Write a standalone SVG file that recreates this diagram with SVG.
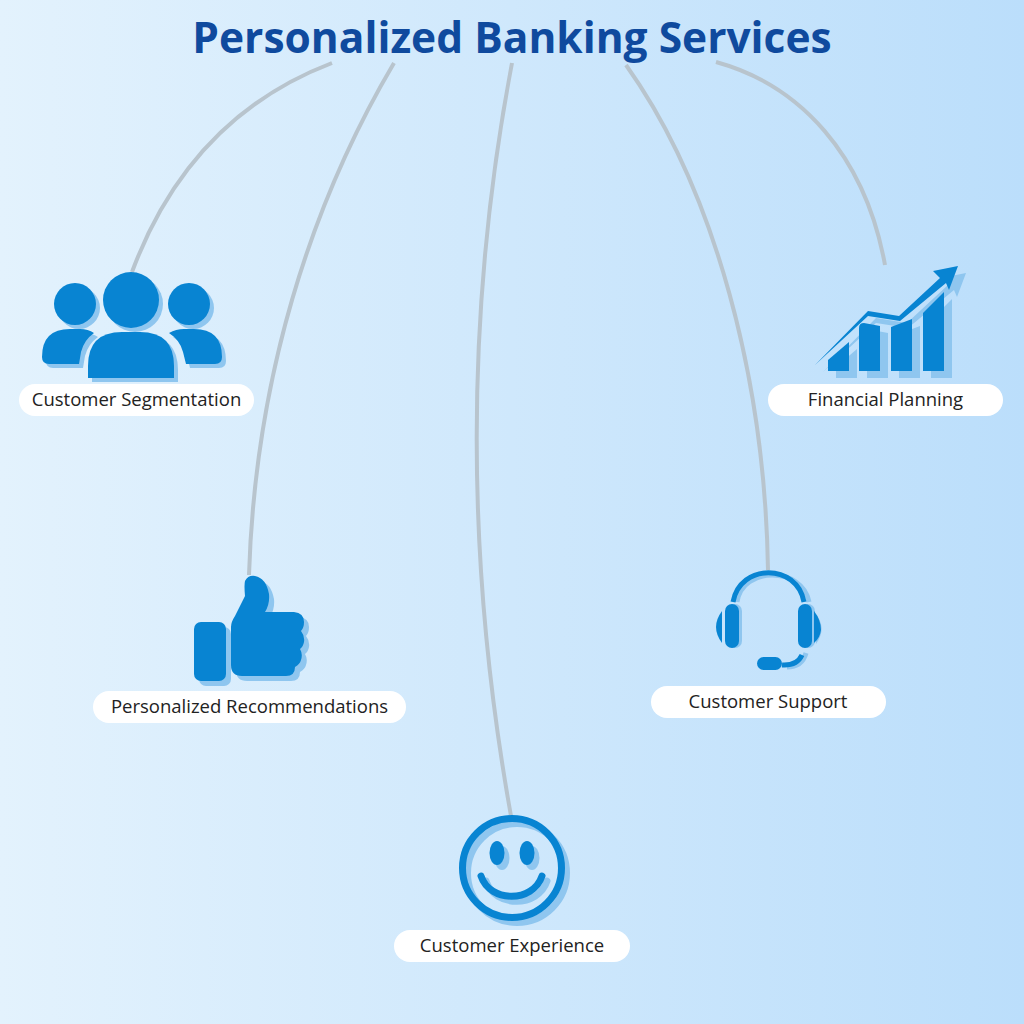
<svg xmlns="http://www.w3.org/2000/svg" xmlns:xlink="http://www.w3.org/1999/xlink" width="1024" height="1024" viewBox="0 0 1024 1024">
<style>
.conn{fill:none;stroke:#b8c4cd;stroke-width:4;stroke-linecap:butt}
.pill{fill:#fff}
.lbl{font-family:"Open Sans","Noto Sans",sans-serif;font-size:18.5px;fill:#222;text-anchor:middle}
.title{font-family:"Open Sans","Noto Sans",sans-serif;font-size:42.5px;font-weight:700;fill:#0f4a9e;text-anchor:middle}
.ic{fill:#0884d2}
.sh{fill:#8fc6ef}
.icl{fill:none;stroke:#0884d2}
.shl{fill:none;stroke:#8fc6ef}
</style>
<defs>
<linearGradient id="bg" x1="0" y1="0" x2="1" y2="0"><stop offset="0" stop-color="#e3f2fd"/><stop offset="1" stop-color="#bbdefb"/></linearGradient>
<g id="people-g">
<circle cx="75" cy="304" r="21"/><circle cx="131" cy="300" r="28"/><circle cx="189" cy="304" r="21"/>
<path d="M42 357Q42 329 70 329H80Q88 329 94 333Q84 340 81 352L79 364H49Q42 364 42 357Z"/>
<path d="M88 378V366Q88 332 122 332H140Q174 332 174 366V378Z"/>
<path d="M222 357Q222 329 194 329H184Q176 329 169 333Q180 340 183 352L186 364H215Q222 364 222 357Z"/>
</g>
<g id="chart-g">
<path d="M828 360L849 342V371H828Z"/><path d="M859 328Q859 323 864 323L880 326V371H859Z"/><path d="M891 327L912 319V371H891Z"/><path d="M923 313L944 292V371H923Z"/>
<path d="M815 365L868 311L899 316L940 278L933 271L958 266L949 290L946 283L900 321L868 316Z"/>
</g>
<g id="thumb-g">
<rect x="194" y="622" width="32" height="59" rx="7"/>
<path d="M231 627Q231 622 235 616L245 596Q244 585 245 581Q248 575 255 576Q266 578 269 594Q270 604 265 612H294Q304 613 304 622Q304 628 301 631Q305 636 304 642Q303 647 300 649Q303 654 301 660Q300 664 295 667Q295 676 286 676H242Q231 676 231 665Z"/>
</g>
</defs>
<rect width="1024" height="1024" fill="url(#bg)"/>
<g id="connectors">
<path class="conn" d="M332 63C235 100 170 170 132 272"/>
<path class="conn" d="M394 63C310 205 255 380 249 575"/>
<path class="conn" d="M512 63C465 310 465 560 511 816"/>
<path class="conn" d="M626 65C715 190 765 380 768 570"/>
<path class="conn" d="M716 62C800 85 865 155 885 265"/>
</g>
<text id="title" class="title" x="512" y="53">Personalized Banking Services</text>
<g id="node-segmentation">
<use xlink:href="#people-g" href="#people-g" x="4" y="4" class="sh"/>
<use xlink:href="#people-g" href="#people-g" class="ic"/>
<rect class="pill" x="19" y="384" width="235" height="32" rx="16"/>
<text class="lbl" x="136.500" y="406">Customer Segmentation</text>
</g>
<g id="node-recommendations">
<use xlink:href="#thumb-g" href="#thumb-g" x="5" y="5" class="sh"/>
<use xlink:href="#thumb-g" href="#thumb-g" class="ic"/>
<rect class="pill" x="93" y="691" width="313" height="32" rx="16"/>
<text class="lbl" x="249.500" y="713">Personalized Recommendations</text>
</g>
<g id="node-experience">
<g class="shl" stroke-width="7" transform="translate(5 5)">
<circle cx="512" cy="868" r="49.5"/><path d="M481 876C490 903 533 903 542 876" stroke-linecap="round"/>
<ellipse class="sh" cx="497" cy="853" rx="7.5" ry="12" stroke="none"/><ellipse class="sh" cx="527" cy="853" rx="7.5" ry="12" stroke="none"/>
</g>
<g class="icl" stroke-width="7">
<circle cx="512" cy="868" r="49.5"/><path d="M481 876C490 903 533 903 542 876" stroke-linecap="round"/>
<ellipse class="ic" cx="497" cy="853" rx="7.5" ry="12" stroke="none"/><ellipse class="ic" cx="527" cy="853" rx="7.5" ry="12" stroke="none"/>
</g>
<rect class="pill" x="394" y="930" width="236" height="32" rx="16"/>
<text class="lbl" x="512" y="952">Customer Experience</text>
</g>
<g id="node-support">
<path class="shl" stroke-width="5" d="M737 602C742 566 802 566 809 602"/>
<path class="shl" stroke-width="5" d="M787 667Q802 667 806 653"/>
<rect class="sh" x="728" y="604" width="14" height="44" rx="7"/><rect class="sh" x="801" y="604" width="14" height="44" rx="7"/>
<path class="sh" d="M814 612Q828 627 816 644Z"/>
<path class="icl" stroke-width="5" d="M733 602C740 563 797 563 804 602"/>
<path class="icl" stroke-width="5" d="M782 665Q797 666 802 655"/>
<rect class="ic" x="725" y="604" width="14" height="44" rx="7"/><rect class="ic" x="798" y="604" width="14" height="44" rx="7"/>
<path class="ic" d="M722 611Q710 627 722 643Z"/><path class="ic" d="M814 611Q821 620 821 630Q820 638 814 643Z"/>
<rect class="ic" x="757" y="657" width="25" height="13" rx="6.500"/>
<rect class="pill" x="651" y="686" width="235" height="32" rx="16"/>
<text class="lbl" x="768" y="708">Customer Support</text>
</g>
<g id="node-planning">
<use xlink:href="#chart-g" href="#chart-g" x="8" y="7" class="sh"/>
<use xlink:href="#chart-g" href="#chart-g" class="ic"/>
<rect class="pill" x="768" y="384" width="235" height="32" rx="16"/>
<text class="lbl" x="885.500" y="406">Financial Planning</text>
</g>
</svg>
